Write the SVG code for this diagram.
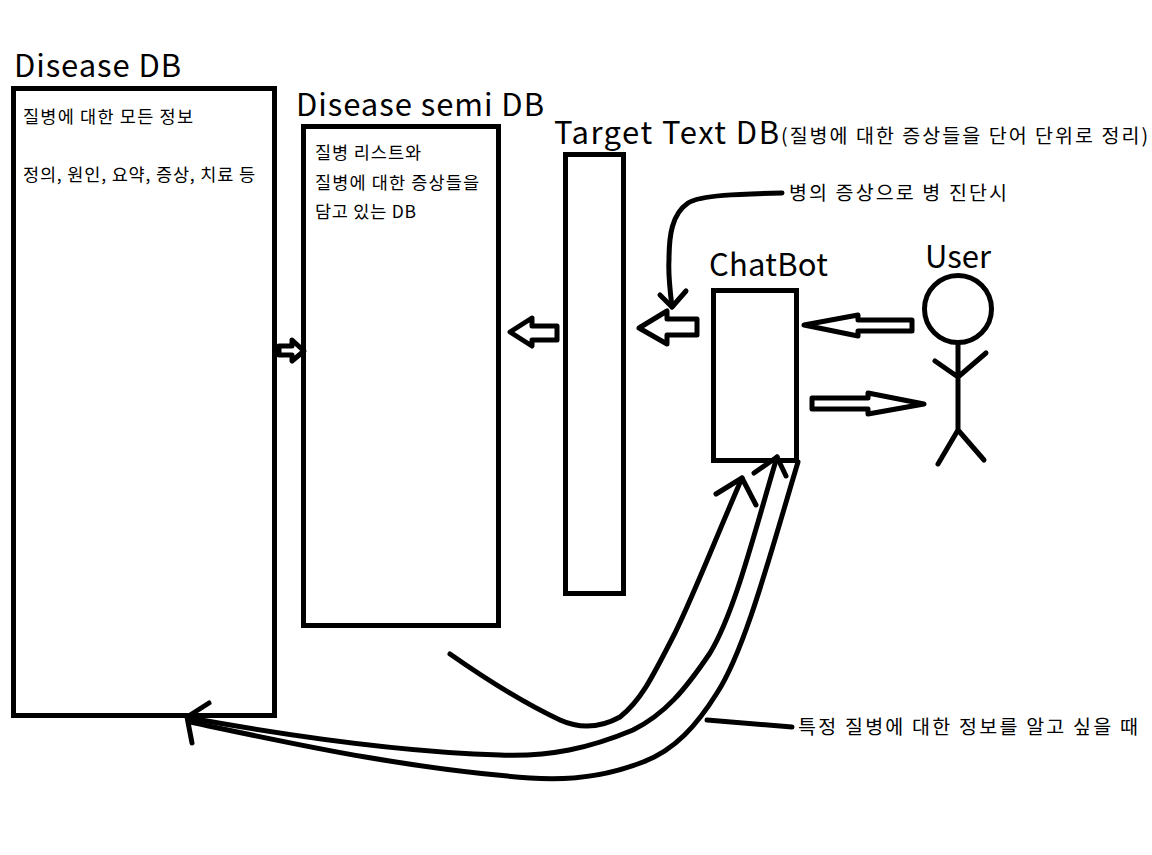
<svg xmlns="http://www.w3.org/2000/svg" width="1152" height="855" viewBox="0 0 1152 855">
<style>
.box{fill:#fff;stroke:#000;stroke-width:5}
.ln{fill:none;stroke:#000;stroke-width:5;stroke-linecap:round;stroke-linejoin:round}
.t{font-family:"Noto Sans CJK KR","Noto Sans",sans-serif;fill:#000}
.h{font-size:31px}
.s{font-size:17.500px}
.m{font-size:19.500px}
</style>
<rect width="1152" height="855" fill="#fff"/>
<g id="disease-db">
<rect class="box" x="13.5" y="88.5" width="261" height="627"/>
<text class="t h" x="14" y="77" textLength="167">Disease DB</text>
<text class="t s" x="23" y="123" textLength="170">질병에 대한 모든 정보</text>
<text class="t s" x="23" y="181" textLength="232">정의, 원인, 요약, 증상, 치료 등</text>
</g>
<g id="disease-semi-db">
<rect class="box" x="303.5" y="126.5" width="195" height="499"/>
<text class="t h" x="296" y="116" textLength="248">Disease semi DB</text>
<text class="t s" x="315" y="159" textLength="106">질병 리스트와</text>
<text class="t s" x="315" y="189" textLength="164">질병에 대한 증상들을</text>
<text class="t s" x="315" y="218" textLength="101">담고 있는 DB</text>
</g>
<g id="target-text-db">
<rect class="box" x="565.5" y="154.5" width="58" height="439"/>
<text class="t h" x="554" y="144" textLength="225">Target Text DB</text>
<text class="t m" x="781" y="143" textLength="367">(질병에 대한 증상들을 단어 단위로 정리)</text>
</g>
<g id="chatbot">
<rect class="box" x="713.5" y="290.5" width="83" height="170"/>
<text class="t h" x="709" y="276" textLength="119">ChatBot</text>
</g>
<g id="user">
<text class="t h" x="925" y="268" textLength="66">User</text>
<circle class="ln" cx="958" cy="309" r="33.500"/>
<path class="ln" d="M958 343V430M935 361L958 377L986 353M938 464L958 430L984 460"/>
</g>
<g id="connectors">
<path class="ln" d="M279 346H292V340L304 351L292 361V355H279Z"/>
<path class="ln" d="M557 326H532V318L510 332L532 346V340H557Z"/>
<path class="ln" d="M697 319V335H667V344L639 328L667 311V319Z"/>
<path class="ln" d="M912 320V331H858V336L804 325L858 315V320Z"/>
<path class="ln" d="M812 398V409H868V414L924 404L868 393V398Z"/>
<path class="ln" d="M782 193C740 194 700 195 688 203C672 214 669 235 669 260C668 275 670 290 672 307"/>
<path class="ln" d="M660 295L672 307L686 291"/>
<path class="ln" d="M450 654C490 682 530 706 560 720C580 729 600 728 620 717C640 701 650 682 675 633C695 592 715 540 742 478"/>
<path class="ln" d="M716 494L742 478L756 505"/>
<path class="ln" d="M190 718C290 736 400 752 500 755C550 757 590 748 633 730C665 714 685 690 710 653C735 612 755 530 777 457"/>
<path class="ln" d="M754 473L777 457L786 476"/>
<path class="ln" d="M190 722C290 743 400 768 530 778C570 781 610 775 643 762C675 750 697 725 717 693C745 650 770 555 798 462"/>
<path class="ln" d="M209 703L187 717L192 743"/>
<path class="ln" d="M707 720L792 727"/>
</g>
<g id="labels">
<text class="t m" x="789" y="200" textLength="218">병의 증상으로 병 진단시</text>
<text class="t m" x="798" y="734" textLength="340">특정 질병에 대한 정보를 알고 싶을 때</text>
</g>
</svg>
